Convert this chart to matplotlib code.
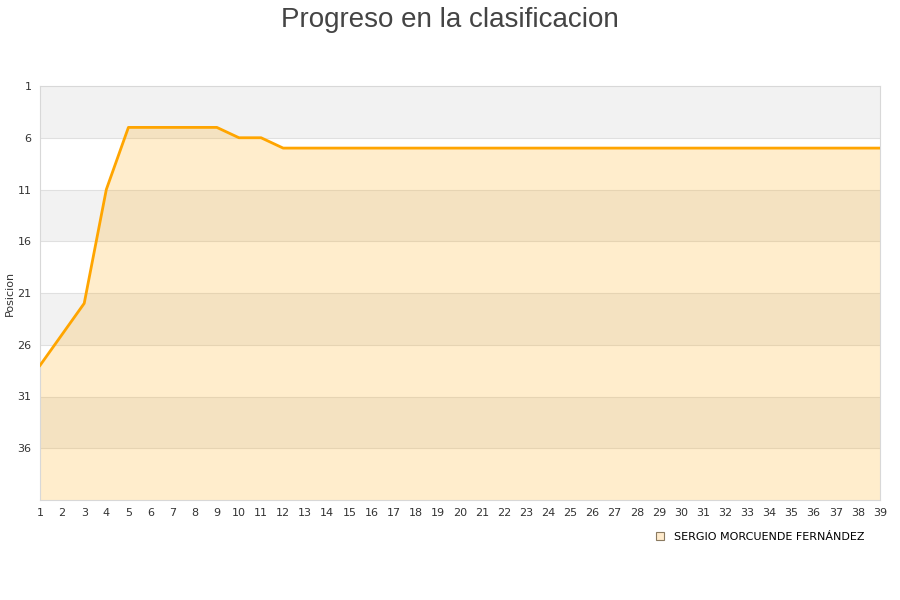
import numpy as np
import matplotlib.pyplot as plt

jornadas = list(range(1, 40))
posiciones = [28, 25, 22, 11, 5, 5, 5, 5, 5, 6, 6, 7] + [7] * 27
y_ticks = [1, 6, 11, 16, 21, 26, 31, 36]
player = "SERGIO MORCUENDE FERNÁNDEZ"

fig = plt.figure(figsize=(9, 6), dpi=100)
ax = fig.add_axes([40 / 900, 1 - 500 / 600, 840 / 900, 414 / 600])

# alternating bands
for i, start in enumerate(range(1, 41, 5)):
    if i % 2 == 0:
        ax.axhspan(start, start + 5, color="#f2f2f2", zorder=0, lw=0)
for t in y_ticks[1:]:
    ax.axhline(t, color="#e0e0e0", lw=0.8, zorder=1)

ax.fill_between(jornadas, posiciones, 41, color="orange", alpha=0.2, lw=0, zorder=2)
ax.plot(jornadas, posiciones, color="#ffa500", lw=2.0, zorder=3)

ax.set_xlim(1, 39)
ax.set_ylim(41, 1)
ax.set_xticks(jornadas)
ax.set_yticks(y_ticks)
ax.tick_params(length=0, labelsize=8, colors="#333333", pad=6)
for s in ax.spines.values():
    s.set_color("#d8d8d8")
ax.set_ylabel("Posicion", fontsize=8, color="#333333")
ax.yaxis.set_label_coords(-0.03, 0.5)

fig.text(0.5, 0.988, "Progreso en la clasificacion", ha="center", va="top",
         fontsize=20, color="#444444", family="Liberation Sans")

ax.fill_between([], [], facecolor="#ffebcc", edgecolor="#8a7a60", lw=0.8, label=player)
leg = ax.legend(loc="upper right", bbox_to_anchor=(0.993, -0.052), frameon=False,
                fontsize=8, handlelength=0.7, handleheight=0.7, handletextpad=0.9)

fig.savefig("out.png", dpi=100)
